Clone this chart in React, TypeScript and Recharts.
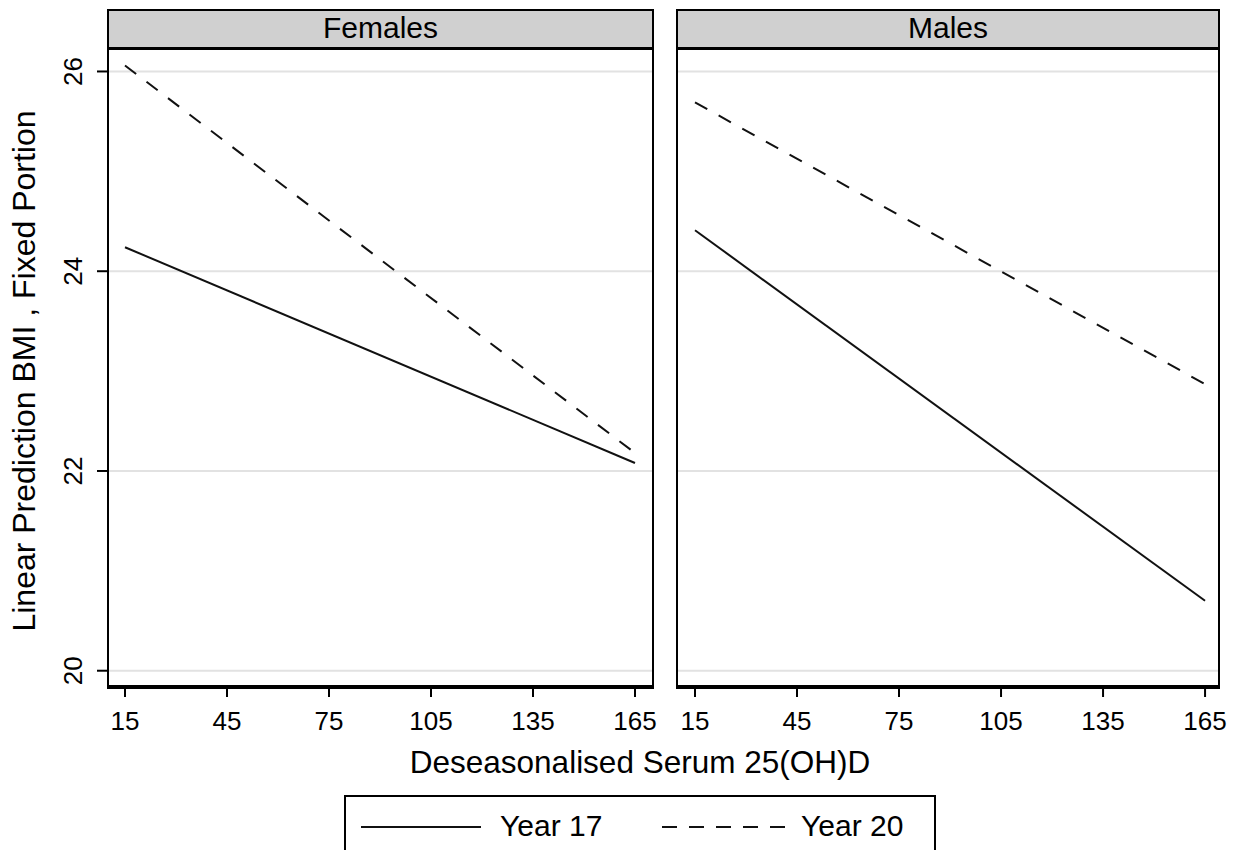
import React from "react";
import { LineChart, Line, XAxis, YAxis, ReferenceLine } from "recharts";

// ─── Data ──────────────────────────────────────────────────────────────────

const serumLevels = [15, 165];
const femalesYear17 = [24.24, 22.08];
const femalesYear20 = [26.06, 22.18];
const malesYear17 = [24.41, 20.7];
const malesYear20 = [25.69, 22.87];

const xTicks = [15, 45, 75, 105, 135, 165];
const yTicks = [20, 22, 24, 26];

const FONT = '"Liberation Sans", Arial, sans-serif';
const DASH = "14 13";

const toRows = (y17: number[], y20: number[]) =>
  serumLevels.map((x, i) => ({ x, y17: y17[i], y20: y20[i] }));

// ─── Y tick (rotated, Stata style) ─────────────────────────────────────────

function RotatedYTick(props: { x?: number; y?: number; payload?: { value: number } }) {
  const { x = 0, y = 0, payload } = props;
  const tx = x - 15;
  return (
    <text
      x={tx}
      y={y}
      transform={`rotate(-90, ${tx}, ${y})`}
      textAnchor="middle"
      fill="#000"
      fontSize={26}
      fontFamily={FONT}
    >
      {payload?.value}
    </text>
  );
}

// ─── Panel ─────────────────────────────────────────────────────────────────

interface PanelProps {
  title: string;
  left: number; // page x of the chart svg
  frameLeft: number;
  frameWidth: number;
  width: number;
  xDomain: [number, number];
  showY: boolean;
  y17: number[];
  y20: number[];
}

const RIGHT_PAD = 30;

function Panel({ title, left, frameLeft, frameWidth, width, xDomain, showY, y17, y20 }: PanelProps) {
  const rows = toRows(y17, y20);
  return (
    <>
      <div style={{ position: "absolute", left, top: 0 }}>
        <LineChart
          width={width + RIGHT_PAD}
          height={850}
          data={rows}
          margin={{ top: 49, right: RIGHT_PAD, bottom: 103, left: 0 }}
        >
          <XAxis
            type="number"
            dataKey="x"
            domain={xDomain}
            ticks={xTicks}
            allowDataOverflow
            height={60}
            tickSize={10}
            tickMargin={15}
            axisLine={{ stroke: "#000", strokeWidth: 4 }}
            tickLine={{ stroke: "#000", strokeWidth: 2 }}
            tick={{ fill: "#000", fontSize: 26, fontFamily: FONT }}
            interval={0}
          />
          <YAxis
            type="number"
            domain={[19.837, 26.225]}
            ticks={yTicks}
            allowDataOverflow
            hide={!showY}
            width={108}
            tickSize={11}
            tickMargin={0}
            axisLine={false}
            tickLine={{ stroke: "#000", strokeWidth: 2 }}
            tick={<RotatedYTick />}
            interval={0}
          />
          {yTicks.map((t) => (
            <ReferenceLine key={t} y={t} stroke="#e2e2e2" strokeWidth={2} />
          ))}
          <Line
            type="linear"
            dataKey="y17"
            stroke="#111"
            strokeWidth={2}
            dot={false}
            isAnimationActive={false}
          />
          <Line
            type="linear"
            dataKey="y20"
            stroke="#111"
            strokeWidth={2}
            strokeDasharray={DASH}
            dot={false}
            isAnimationActive={false}
          />
        </LineChart>
      </div>

      {/* panel frame + strip */}
      <div
        style={{
          position: "absolute",
          left: frameLeft,
          top: 9,
          width: frameWidth,
          height: 680,
          boxSizing: "border-box",
          borderTop: "2px solid #000",
          borderLeft: "2px solid #000",
          borderRight: "2px solid #000",
          pointerEvents: "none",
        }}
      >
        <div
          style={{
            height: 39,
            boxSizing: "border-box",
            background: "#d0d0d0",
            borderBottom: "3px solid #000",
            fontFamily: FONT,
            fontSize: 30,
            lineHeight: "34px",
            textAlign: "center",
            color: "#000",
          }}
        >
          {title}
        </div>
      </div>
    </>
  );
}

// ─── Main ──────────────────────────────────────────────────────────────────

export default function App() {
  return (
    <div
      style={{
        position: "absolute",
        left: 0,
        top: 0,
        width: 1237,
        height: 850,
        background: "#fff",
        overflow: "hidden",
        fontFamily: FONT,
      }}
    >
      <Panel
        title="Females"
        left={0}
        frameLeft={107}
        frameWidth={547}
        width={653}
        xDomain={[10, 170.3]}
        showY
        y17={femalesYear17}
        y20={femalesYear20}
      />
      <Panel
        title="Males"
        left={677}
        frameLeft={676}
        frameWidth={544}
        width={542}
        xDomain={[9.706, 169.1]}
        showY={false}
        y17={malesYear17}
        y20={malesYear20}
      />

      {/* y-axis title */}
      <div
        style={{
          position: "absolute",
          left: 24 - 300,
          top: 371 - 16,
          width: 600,
          height: 32,
          lineHeight: "32px",
          fontSize: 32,
          textAlign: "center",
          transform: "rotate(-90deg)",
          whiteSpace: "nowrap",
          color: "#000",
        }}
      >
        Linear Prediction BMI , Fixed Portion
      </div>

      {/* x-axis title */}
      <div
        style={{
          position: "absolute",
          left: 340,
          top: 746,
          width: 600,
          lineHeight: "32px",
          fontSize: 31.5,
          textAlign: "center",
          whiteSpace: "nowrap",
          color: "#000",
        }}
      >
        Deseasonalised Serum 25(OH)D
      </div>

      {/* legend */}
      <div
        style={{
          position: "absolute",
          left: 344,
          top: 795,
          width: 592,
          height: 80,
          boxSizing: "border-box",
          border: "2px solid #000",
        }}
      >
        <svg width={592} height={60} style={{ position: "absolute", left: 0, top: 0 }}>
          <line x1={15} x2={135} y1={30} y2={30} stroke="#111" strokeWidth={2} />
          <line x1={316} x2={440} y1={30} y2={30} stroke="#111" strokeWidth={2} strokeDasharray="15 12" />
        </svg>
        <div style={{ position: "absolute", left: 154, top: 14, fontSize: 30, lineHeight: "30px", color: "#000" }}>
          Year 17
        </div>
        <div style={{ position: "absolute", left: 455, top: 14, fontSize: 30, lineHeight: "30px", color: "#000" }}>
          Year 20
        </div>
      </div>
    </div>
  );
}
